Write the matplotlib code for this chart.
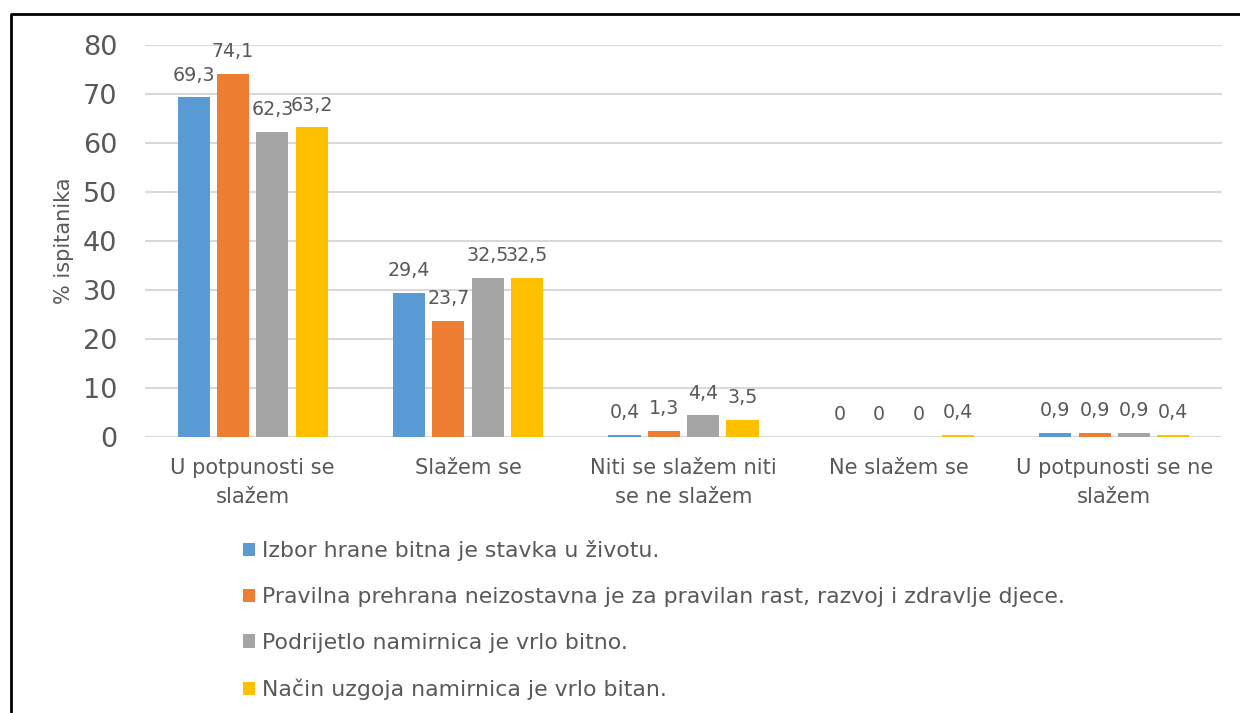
import matplotlib
matplotlib.use("Agg")
import matplotlib.pyplot as plt
from matplotlib.patches import Patch
from matplotlib.lines import Line2D
import numpy as np

categories = ["U potpunosti se\nslažem", "Slažem se", "Niti se slažem niti\nse ne slažem",
              "Ne slažem se", "U potpunosti se ne\nslažem"]
series_names = ["Izbor hrane bitna je stavka u životu.",
                "Pravilna prehrana neizostavna je za pravilan rast, razvoj i zdravlje djece.",
                "Podrijetlo namirnica je vrlo bitno.",
                "Način uzgoja namirnica je vrlo bitan."]
s1 = [69.3, 29.4, 0.4, 0, 0.9]
s2 = [74.1, 23.7, 1.3, 0, 0.9]
s3 = [62.3, 32.5, 4.4, 0, 0.9]
s4 = [63.2, 32.5, 3.5, 0.4, 0.4]
series = [s1, s2, s3, s4]
colors = ["#5B9BD5", "#ED7D31", "#A5A5A5", "#FFC000"]
yticks = [0, 10, 20, 30, 40, 50, 60, 70, 80]

txt = "#595959"
plt.rcParams['font.family'] = ['DejaVu Sans']

fig = plt.figure(figsize=(12.4, 7.13), dpi=100)
ax = fig.add_axes([145/1240, 1-437/713, (1222-145)/1240, (437-45)/713])

x = np.arange(len(categories))
step = 0.1825
width = 0.149
for i, (vals, c) in enumerate(zip(series, colors)):
    pos = x + (i - 1.5) * step
    ax.bar(pos, vals, width=width, color=c, zorder=3)
    for px, v in zip(pos, vals):
        lab = ("%g" % v).replace(".", ",")
        ax.annotate(lab, (px, v), xytext=(0, 12), textcoords="offset points",
                    ha="center", va="baseline", fontsize=13.7, color=txt,
                    annotation_clip=False)

ax.set_xlim(-0.5, len(categories) - 0.5)
ax.set_ylim(0, 80)
ax.set_yticks(yticks)
ax.set_yticklabels([str(t) for t in yticks], fontsize=19.5, color=txt)
ax.set_xticks(x)
ax.set_xticklabels(categories, fontsize=15.1, color=txt, linespacing=1.55)
ax.tick_params(axis="both", length=0)
ax.tick_params(axis="y", pad=20)
ax.tick_params(axis="x", pad=15)
for s in ax.spines.values():
    s.set_visible(False)
ax.grid(axis="y", color="#D9D9D9", lw=1.5, zorder=0)
ax.set_ylabel("% ispitanika", fontsize=15, color=txt, labelpad=6)

handles = [Patch(facecolor=c, edgecolor="none") for c in colors]
fig.legend(handles, series_names, loc="upper left",
           bbox_to_anchor=(243/1240, 1-540/713), frameon=False,
           fontsize=15.8, labelcolor=txt, handlelength=0.55, handleheight=0.55,
           handletextpad=0.3, labelspacing=1.18, borderpad=0, borderaxespad=0)

fig.add_artist(Line2D([11/1240, 11/1240, 1.0], [0, 1-14/713, 1-14/713],
                      transform=fig.transFigure, color="black", lw=2))

fig.savefig("out.png", dpi=100)
